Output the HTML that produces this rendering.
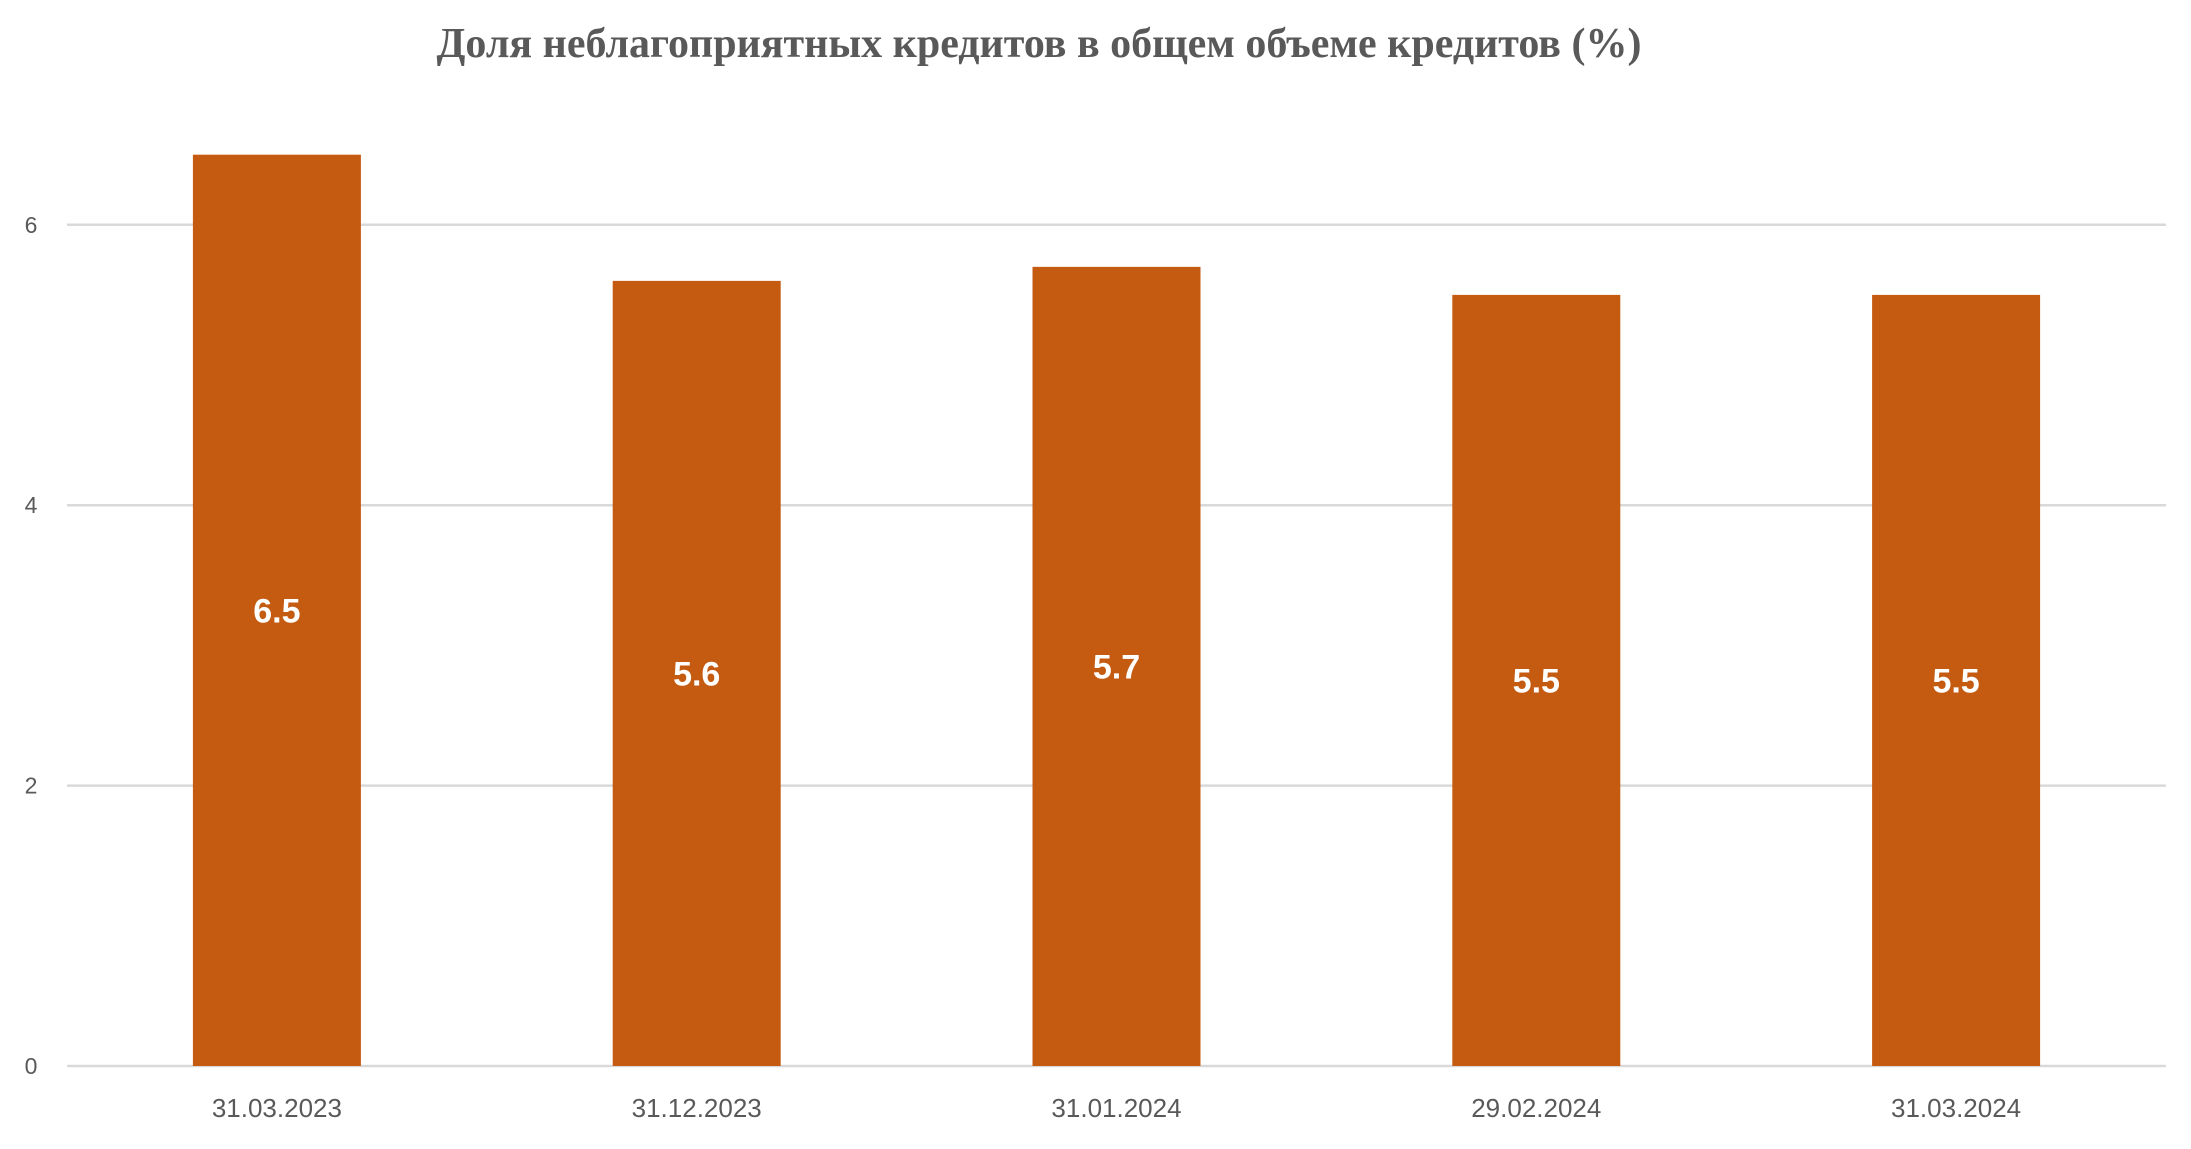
<!DOCTYPE html>
<html><head><meta charset="utf-8"><style>
html,body{margin:0;padding:0;background:#fff;}
svg{display:block;}
</style></head><body>
<svg id="chart" width="2191" height="1149" xmlns="http://www.w3.org/2000/svg">
<text x="1039" y="57" text-anchor="middle" font-family="Liberation Serif, serif" font-weight="bold" font-size="42" fill="#595959">Доля неблагоприятных кредитов в общем объеме кредитов (%)</text>
<g id="grid"></g><g id="bars"></g><g id="labels"></g>
</svg>
<script>
const categories = ["31.03.2023","31.12.2023","31.01.2024","29.02.2024","31.03.2024"];
const values = [6.5,5.6,5.7,5.5,5.5];
const yTicks = [0,2,4,6];
const NS="http://www.w3.org/2000/svg";
const left=67,right=2166,y0=1066,unit=140.2;
const bw=(right-left)/categories.length;
const y=v=>y0-v*unit;
const x=i=>left+bw*(i+0.5);
function mk(tag,attrs,parent,text){const e=document.createElementNS(NS,tag);for(const k in attrs)e.setAttribute(k,attrs[k]);if(text!==undefined)e.textContent=text;parent.appendChild(e);return e;}
const grid=document.getElementById('grid'),bars=document.getElementById('bars'),labels=document.getElementById('labels');
yTicks.forEach(t=>{
 const l=mk('line',{x1:left,x2:right,y1:y(t),y2:y(t),stroke:'#d9d9d9','stroke-width':2.5},grid);
 
 
 const tx=mk('text',{x:31,y:y(t)+8,'text-anchor':'middle','font-family':'Liberation Sans, sans-serif','font-size':23,fill:'#595959'},grid,String(t));
 
 
});
values.forEach((v,i)=>{
 const w=168;
 const r=mk('rect',{x:x(i)-w/2,y:y(v),width:w,height:y0-y(v),fill:'#c55a11'},bars);
 
 
 const vl=mk('text',{x:x(i),y:(y(v)+y0)/2+12,'text-anchor':'middle','font-family':'Liberation Sans, sans-serif','font-weight':'bold','font-size':34,fill:'#ffffff'},labels,v.toFixed(1));
 
 
 const cl=mk('text',{x:x(i),y:1117,'text-anchor':'middle','font-family':'Liberation Sans, sans-serif','font-size':26,fill:'#595959'},labels,categories[i]);
 
 
});
</script>
</body></html>
